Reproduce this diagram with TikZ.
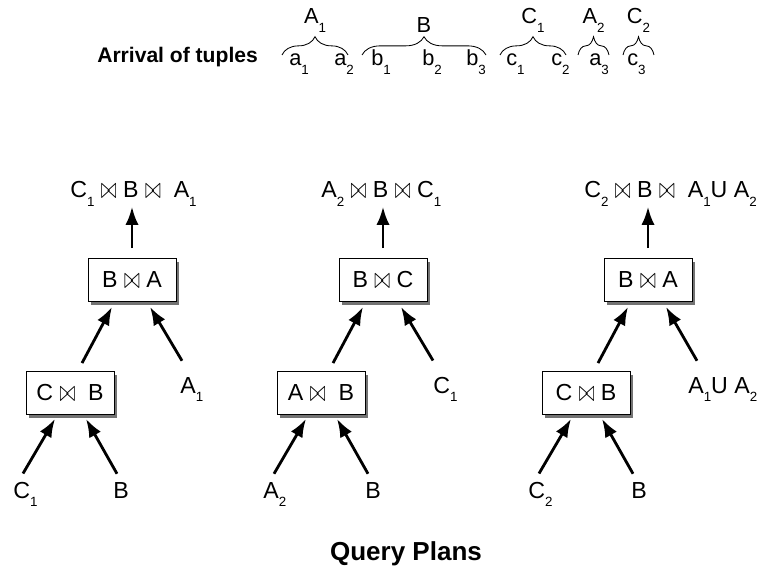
\documentclass[tikz,border=0pt]{standalone}
\usepackage{fontspec}
\setmainfont{Liberation Sans}
\usetikzlibrary{arrows.meta,shadows,decorations.pathreplacing}

\newcommand{\lw}[1]{\raisebox{-6pt}{\fontsize{9.5}{9.5}\selectfont #1}}
\newcommand{\jn}{\raisebox{-0.3pt}{\scalebox{0.8}[1.25]{$\bowtie$}}}

\tikzset{
  opbox/.style={draw, line width=0.6pt, fill=white, minimum width=2.2cm, minimum height=1.075cm,
    drop shadow={shadow xshift=2.2pt, shadow yshift=-2.2pt, fill=black!55, opacity=1},
    font=\fontsize{16.5}{19}\selectfont},
  lbl/.style={inner sep=0pt, font=\fontsize{16.5}{19}\selectfont},
  tup/.style={inner sep=0pt, font=\fontsize{15.5}{18}\selectfont},
  flow/.style={-{Latex[length=13pt,width=9.5pt]}, line width=2pt},
  grp/.style={decorate, decoration={brace, amplitude=13pt}, line width=0.6pt},
}

\begin{document}
\begin{tikzpicture}[x=0.025cm, y=-0.025cm]
	\useasboundingbox (0,0) rectangle (760,569);

	% arrival order
	\node[inner sep=0pt, anchor=base west, font=\fontsize{15}{18}\selectfont\bfseries] (arr) at (97,63) {Arrival of tuples};
	\foreach \x/\t [count=\i] in {289/a\lw{1}, 334/a\lw{2}, 371/b\lw{1}, 422/b\lw{2}, 466/b\lw{3}, 506/c\lw{1}, 551/c\lw{2}, 589/a\lw{3}, 627/c\lw{3}}
		\node[tup, anchor=base west] (t\i) at (\x,66) {\t};
	\foreach \l/\r/\n [count=\i] in {282/348/A\lw{1}, 362/486/B, 500/566/C\lw{1}, 578/609/A\lw{2}, 623/654/C\lw{2}}
		\draw[grp] (\l,55) -- node[tup, above=16pt] (g\i) {\n} (\r,55);

	% plan 1
	\begin{scope}
		\node[lbl, anchor=base west] (res1) at (70,198) {C\lw{1} \jn{} B \jn\ \ A\lw{1}};
		\node[opbox] (up1) at (132,280) {B \jn{} A};
		\node[opbox] (low1) at (70,393) {C \jn\ \ B};
		\node[lbl, anchor=base west] (rt1) at (180,393) {A\lw{1}};
		\node[lbl, anchor=base west] (lf1) at (13,498) {C\lw{1}};
		\node[lbl, anchor=base west] (md1) at (113,498) {B};
		\draw[flow] ([shift={(0,-10)}]up1.north) -- (res1.south -| up1.north);
		\draw[flow] ([shift={(12,-8)}]low1.north) -- ([shift={(-20,5)}]up1.south);
		\draw[flow] ([shift={(2,-16)}]rt1.north west) -- ([shift={(18,5)}]up1.south);
		\draw[flow] ([shift={(10,-8)}]lf1.north west) -- ([shift={(-15,4)}]low1.south);
		\draw[flow] ([shift={(4,-8)}]md1.north west) -- ([shift={(16,4)}]low1.south);
	\end{scope}

	% plan 2
	\begin{scope}[shift={(251,0)}]
		\node[lbl, anchor=base west] (res2) at (70,198) {A\lw{2} \jn{} B \jn{} C\lw{1}};
		\node[opbox] (up2) at (132,280) {B \jn{} C};
		\node[opbox] (low2) at (70,393) {A \jn\ \ B};
		\node[lbl, anchor=base west] (rt2) at (182,393) {C\lw{1}};
		\node[lbl, anchor=base west] (lf2) at (12,498) {A\lw{2}};
		\node[lbl, anchor=base west] (md2) at (114,498) {B};
		\draw[flow] ([shift={(0,-10)}]up2.north) -- (res2.south -| up2.north);
		\draw[flow] ([shift={(12,-8)}]low2.north) -- ([shift={(-20,5)}]up2.south);
		\draw[flow] ([shift={(0,-16)}]rt2.north west) -- ([shift={(18,5)}]up2.south);
		\draw[flow] ([shift={(11,-8)}]lf2.north west) -- ([shift={(-15,4)}]low2.south);
		\draw[flow] ([shift={(3,-8)}]md2.north west) -- ([shift={(16,4)}]low2.south);
	\end{scope}

	% plan 3
	\begin{scope}[shift={(516,0)}]
		\node[lbl, anchor=base west] (res3) at (68,198) {C\lw{2} \jn{} B \jn\ \ A\lw{1}U A\lw{2}};
		\node[opbox] (up3) at (132,280) {B \jn{} A};
		\node[opbox] (low3) at (70,393) {C \jn{} B};
		\node[lbl, anchor=base west] (rt3) at (172,393) {A\lw{1}U A\lw{2}};
		\node[lbl, anchor=base west] (lf3) at (12,498) {C\lw{2}};
		\node[lbl, anchor=base west] (md3) at (115,498) {B};
		\draw[flow] ([shift={(0,-10)}]up3.north) -- (res3.south -| up3.north);
		\draw[flow] ([shift={(12,-8)}]low3.north) -- ([shift={(-20,5)}]up3.south);
		\draw[flow] ([shift={(9,-16)}]rt3.north west) -- ([shift={(18,5)}]up3.south);
		\draw[flow] ([shift={(11,-8)}]lf3.north west) -- ([shift={(-15,4)}]low3.south);
		\draw[flow] ([shift={(2,-8)}]md3.north west) -- ([shift={(16,4)}]low3.south);
	\end{scope}

	\node[inner sep=0pt, anchor=base, font=\fontsize{18.5}{22}\selectfont\bfseries] (cap) at (406,560) {Query Plans};
\end{tikzpicture}
\end{document}
